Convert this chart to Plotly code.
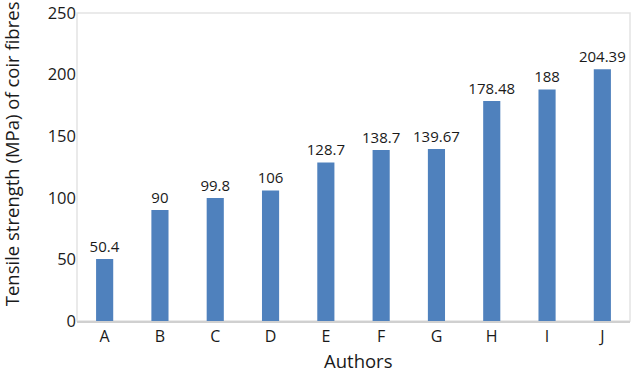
import plotly.graph_objects as go

authors = ["A", "B", "C", "D", "E", "F", "G", "H", "I", "J"]
strength = [50.4, 90, 99.8, 106, 128.7, 138.7, 139.67, 178.48, 188, 204.39]
labels = ["50.4", "90", "99.8", "106", "128.7", "138.7", "139.67", "178.48", "188", "204.39"]
y_ticks = [0, 50, 100, 150, 200, 250]
x_title = "Authors"
y_title = "Tensile strength (MPa) of coir fibres"

FONT = "'Open Sans', sans-serif"

fig = go.Figure(go.Bar(
    x=authors, y=strength, text=labels, textposition="outside",
    textfont=dict(size=15, color="#1a1a1a"), constraintext="none", textangle=0,
    marker=dict(color="#4F81BD", line=dict(width=0)),
    width=0.31, cliponaxis=False, hoverinfo="skip",
))

fig.update_layout(
    width=632, height=375,
    margin=dict(l=77, r=2, t=13, b=54),
    paper_bgcolor="white", plot_bgcolor="white",
    font=dict(family=FONT, color="#1a1a1a"),
    showlegend=False,
    xaxis=dict(
        tickfont=dict(size=16), showline=True, linecolor="#d0d0d0", linewidth=1.5,
        ticks="", showgrid=False, automargin=False,
    ),
    yaxis=dict(
        range=[0, 250], tickvals=y_ticks, tickfont=dict(size=16.5),
        showgrid=False, zeroline=False, ticks="", showline=False, automargin=False,
    ),
    shapes=[dict(type="rect", xref="paper", yref="paper", x0=0, x1=1, y0=0, y1=1,
                 line=dict(color="#e3e3e3", width=1.5), layer="below")],
    annotations=[
        dict(text=y_title, xref="paper", yref="paper", x=-0.119, y=0.542,
             xanchor="center", yanchor="middle", textangle=-90, showarrow=False,
             font=dict(size=18.5, family=FONT, color="#1a1a1a")),
        dict(text=x_title, xref="paper", yref="paper", x=0.509, y=0,
             xanchor="center", yanchor="top", yshift=-25, showarrow=False,
             font=dict(size=18.5, family=FONT, color="#1a1a1a")),
    ],
)

fig.write_html("out.html", config={"displayModeBar": False},
               post_script="document.body.style.margin='0';")
